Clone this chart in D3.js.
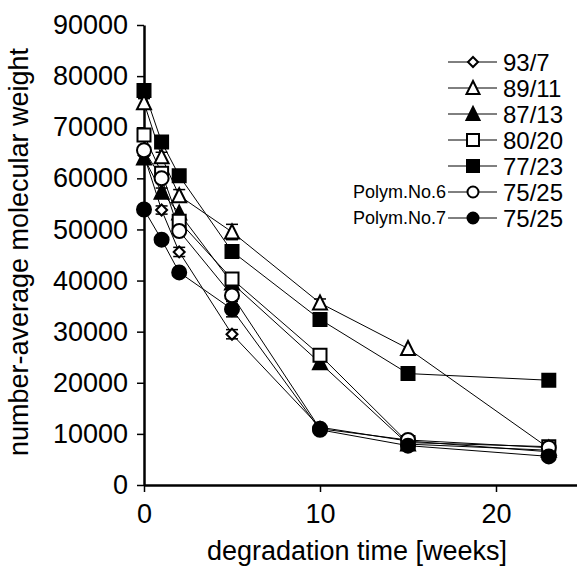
<!DOCTYPE html>
<html>
<head>
<meta charset="utf-8">
<script src="https://cdn.jsdelivr.net/npm/d3@7"></script>
<style>
  html, body { margin: 0; padding: 0; background: #fff; }
  svg { display: block; font-family: "Liberation Sans", Arial, sans-serif; }
</style>
</head>
<body>
<svg id="chart" width="577" height="569"></svg>
<script>
// Degradation time points (weeks)
const weeks = [0, 1, 2, 5, 10, 15, 23];

// Number-average molecular weight per copolymer composition
const mn_93_7  = [64500, 53800, 45600, 29500, 11300, 8600, 6500];
const mn_89_11 = [74800, 64200, 56600, 49500, 35600, 26700, 7200];
const mn_87_13 = [64000, 57300, 53200, 39500, 23900, 8000, 6800];
const mn_80_20 = [68500, 61000, 51600, 40300, 25400, 8300, 7500];
const mn_77_23 = [77200, 67100, 60500, 45700, 32400, 21800, 20500];
const mn_75_25_p6 = [65500, 60000, 49700, 37100, 11000, 8800, 7300];
const mn_75_25_p7 = [53900, 48000, 41600, 34400, 10800, 7700, 5600];

// Standard deviations (error bars)
const sd_93_7  = [0, 800, 900, 900, 0, 0, 0];
const sd_89_11 = [800, 900, 1200, 1500, 800, 0, 0];
const sd_87_13 = [0, 800, 0, 0, 0, 0, 0];
const sd_80_20 = [0, 0, 1000, 1200, 900, 0, 0];
const sd_77_23 = [800, 0, 0, 0, 0, 0, 0];
const sd_75_25_p6 = [0, 0, 0, 0, 0, 0, 0];
const sd_75_25_p7 = [0, 0, 0, 1500, 0, 0, 0];

const seriesNames = ["93/7", "89/11", "87/13", "80/20", "77/23", "75/25", "75/25"];
const seriesPrefix = ["", "", "", "", "", "Polym.No.6", "Polym.No.7"];
const seriesShapes = ["diamond", "triangle", "triangle", "square", "square", "circle", "circle"];
const seriesFilled = [false, false, true, false, true, false, true];

const yTicks = [0, 10000, 20000, 30000, 40000, 50000, 60000, 70000, 80000, 90000];
const xTicks = [0, 10, 20];

const values = [mn_93_7, mn_89_11, mn_87_13, mn_80_20, mn_77_23, mn_75_25_p6, mn_75_25_p7];
const errors = [sd_93_7, sd_89_11, sd_87_13, sd_80_20, sd_77_23, sd_75_25_p6, sd_75_25_p7];

const series = seriesNames.map((name, i) => ({
  name, prefix: seriesPrefix[i], shape: seriesShapes[i], filled: seriesFilled[i],
  points: weeks.map((w, j) => ({ t: w, v: values[i][j], e: errors[i][j] }))
}));

const svg = d3.select("#chart");
const x = d3.scaleLinear().domain([0, 25]).range([144, 584]);
const y = d3.scaleLinear().domain([0, 90000]).range([485, 25]);

// Axes
const yAxis = svg.append("g").attr("transform", "translate(144,0)")
  .call(d3.axisLeft(y).tickValues(yTicks).tickFormat(d3.format("d"))
    .tickSize(7).tickSizeOuter(0).tickPadding(9));
const xAxis = svg.append("g").attr("transform", "translate(0,485)")
  .call(d3.axisBottom(x).tickValues(xTicks).tickFormat(d3.format("d"))
    .tickSize(7).tickSizeOuter(0).tickPadding(12));
[yAxis, xAxis].forEach(g => {
  g.select(".domain").attr("stroke", "#000").attr("stroke-width", 2.5);
  g.selectAll(".tick line").attr("stroke", "#000").attr("stroke-width", 1.5);
  g.selectAll(".tick text").attr("fill", "#000").style("font-size", "27px")
    .style("font-family", "'Liberation Sans', Arial, sans-serif");
});

// Axis titles
svg.append("text")
  .attr("transform", "translate(28,252) rotate(-90)")
  .attr("text-anchor", "middle")
  .style("font-size", "27px")
  .text("number-average molecular weight");
svg.append("text")
  .attr("x", 357).attr("y", 560)
  .attr("text-anchor", "middle")
  .style("font-size", "27px")
  .text("degradation time [weeks]");

// Marker symbol paths
function symbolPath(shape, s) {
  const h = s / 2;
  if (shape === "square") return `M${-h},${-h}H${h}V${h}H${-h}Z`;
  if (shape === "triangle") return `M0,${-h - 1}L${h + 0.5},${h}L${-h - 0.5},${h}Z`;
  if (shape === "diamond") return `M0,${-h}L${h},0L0,${h}L${-h},0Z`;
  return d3.arc()({ innerRadius: 0, outerRadius: h, startAngle: 0, endAngle: 2 * Math.PI });
}

function drawMarker(g, shape, filled, size) {
  g.append("path")
    .attr("d", symbolPath(shape, size))
    .attr("fill", filled ? "#000" : "#fff")
    .attr("stroke", "#000")
    .attr("stroke-width", 2);
}

const line = d3.line().x(d => x(d.t)).y(d => y(d.v));
const plot = svg.append("g");

// Connecting lines
series.forEach(s => {
  plot.append("path").datum(s.points)
    .attr("d", line).attr("fill", "none")
    .attr("stroke", "#000").attr("stroke-width", 1);
});

// Error bars
series.forEach(s => {
  s.points.filter(p => p.e > 0).forEach(p => {
    const cx = x(p.t), y1 = y(p.v + p.e), y2 = y(p.v - p.e);
    const g = plot.append("g").attr("stroke", "#000").attr("stroke-width", 1.5);
    g.append("line").attr("x1", cx).attr("x2", cx).attr("y1", y1).attr("y2", y2);
    g.append("line").attr("x1", cx - 6).attr("x2", cx + 6).attr("y1", y1).attr("y2", y1);
    g.append("line").attr("x1", cx - 6).attr("x2", cx + 6).attr("y1", y2).attr("y2", y2);
  });
});

// Markers
series.forEach(s => {
  const size = s.shape === "diamond" ? 11 : (s.shape === "circle" ? 14 : 13);
  s.points.forEach(p => {
    const g = plot.append("g").attr("transform", `translate(${x(p.t)},${y(p.v)})`);
    drawMarker(g, s.shape, s.filled, size);
  });
});

// Legend
const legend = svg.append("g");
series.forEach((s, i) => {
  const ly = 62 + i * 26;
  const g = legend.append("g").attr("transform", `translate(0,${ly})`);
  g.append("line").attr("x1", 448).attr("x2", 497).attr("y1", 0).attr("y2", 0)
    .attr("stroke", "#000").attr("stroke-width", 1);
  const m = g.append("g").attr("transform", "translate(473,0)");
  const size = s.shape === "diamond" ? 10 : (s.shape === "circle" ? 11 : 12);
  drawMarker(m, s.shape, s.filled, size);
  g.append("text").attr("x", 503).attr("y", 0).attr("dy", "0.36em")
    .style("font-size", "24px").text(s.name);
  if (s.prefix) {
    g.append("text").attr("x", 446).attr("y", 0).attr("dy", "0.36em")
      .attr("text-anchor", "end")
      .style("font-size", "18px").text(s.prefix);
  }
});
</script>
</body>
</html>
